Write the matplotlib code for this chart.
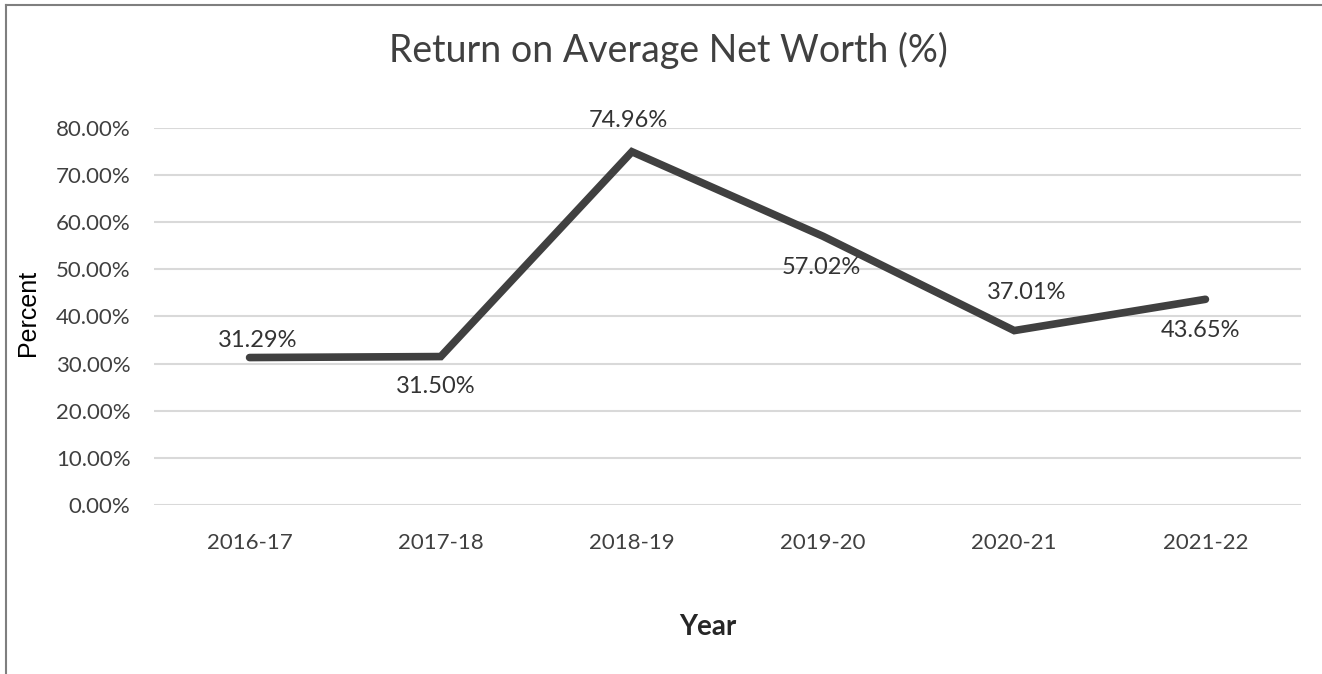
import matplotlib
matplotlib.use("Agg")
import matplotlib.pyplot as plt
from matplotlib.lines import Line2D

years = ["2016-17", "2017-18", "2018-19", "2019-20", "2020-21", "2021-22"]
returns = [31.29, 31.50, 74.96, 57.02, 37.01, 43.65]
y_ticks = [0, 10, 20, 30, 40, 50, 60, 70, 80]

# label offsets from each point, in pixels (dx, dy up)
label_offsets = [(8, 17), (-5, -30), (-4, 31), (-2, -31), (12, 38), (-5, -31)]

plt.rcParams["ytick.major.pad"] = 17
plt.rcParams["xtick.major.pad"] = 20

W, H = 1322, 674
fig = plt.figure(figsize=(W / 100, H / 100), dpi=100)
ax = fig.add_axes([154 / W, 1 - 505 / H, (1301 - 154) / W, (505 - 128) / H])

x = list(range(len(years)))
ax.plot(x, returns, color="#404040", linewidth=5.5, solid_capstyle="round",
        solid_joinstyle="miter", zorder=3)

for xi, v, (dx, dy) in zip(x, returns, label_offsets):
    ax.annotate(f"{v:.2f}%", (xi, v), xytext=(dx, dy), textcoords="offset pixels",
                ha="center", va="center", fontsize=17, family="Lato",
                color="#333333", zorder=4)

ax.set_xlim(-0.5, len(years) - 0.5)
ax.set_ylim(0, 80)
ax.set_yticks(y_ticks)
ax.set_yticklabels([f"{t:.2f}%" for t in y_ticks])
ax.set_xticks(x)
ax.set_xticklabels(years)
ax.tick_params(length=0, labelsize=16, labelcolor="#404040")
for lbl in ax.get_xticklabels() + ax.get_yticklabels():
    lbl.set_family("Lato")

ax.grid(axis="y", color="#d9d9d9", linewidth=1.5)
ax.set_axisbelow(True)
for s in ax.spines.values():
    s.set_visible(False)

fig.text(668 / W, 1 - 50 / H, "Return on Average Net Worth (%)", ha="center", va="center",
         fontsize=27, family="Lato", color="#404040")
fig.text(28 / W, 1 - 313 / H, "Percent", rotation=90, ha="center", va="center",
         fontsize=18, family="Liberation Sans", color="black")
fig.text(708 / W, 1 - 627 / H, "Year", ha="center", va="center",
         fontsize=20, family="Lato", fontweight="bold", color="#262626")

# outer border (left and top edges)
fig.add_artist(Line2D([6 / W, 6 / W], [0, 1 - 5 / H], color="#7f7f7f", linewidth=1.5))
fig.add_artist(Line2D([6 / W, 1], [1 - 5 / H, 1 - 5 / H], color="#7f7f7f", linewidth=1.5))

fig.savefig("out.png", dpi=100)
